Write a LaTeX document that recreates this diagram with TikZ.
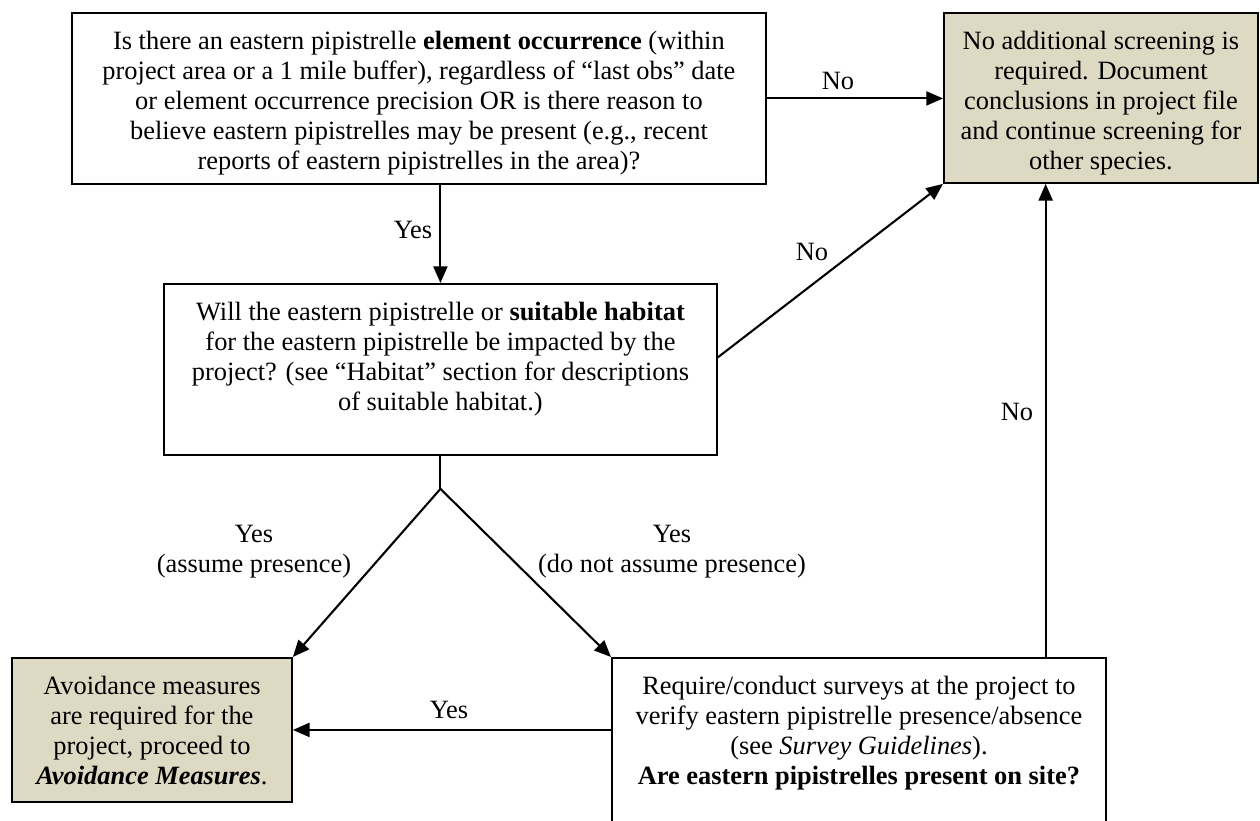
\documentclass[tikz,border=0pt]{standalone}
\usepackage{fontspec}
\setmainfont{Liberation Serif}
\usetikzlibrary{arrows.meta,calc}
\newlength\px \setlength\px{0.4545pt}
\definecolor{tanfill}{HTML}{DDD9C3}
\newcommand{\bxt}[3]{\parbox[c][#2\px][t]{#1\px}{\centering\vspace*{16\px}\strut #3}}
\begin{document}
\begin{tikzpicture}[x=0.4545pt,y=-0.4545pt,
  every node/.style={font=\fontsize{12}{13.64}\selectfont},
  box/.style={draw, line width=0.85pt, inner sep=0pt, anchor=north west},
  tanbox/.style={box, fill=tanfill},
  arr/.style={line width=0.95pt, -{Triangle[length=7.6pt,width=6.4pt]}},
  ln/.style={line width=0.95pt},
  lbl/.style={inner sep=0pt}]
\useasboundingbox (0,0) rectangle (1260,821);
\clip (0,0) rectangle (1260,821);

\node[box] (top) at (71,12) {\bxt{694}{171}{Is there an eastern pipistrelle \textbf{element occurrence} (within\\ project area or a 1 mile buffer), regardless of “last obs” date\\ or element occurrence precision OR is there reason to\\ believe eastern pipistrelles may be present (e.g., recent\\ reports of eastern pipistrelles in the area)?}};

\node[tanbox] (ns) at (943,12) {\bxt{314}{170}{No additional screening is\\ required. Document\\ conclusions in project file\\ and continue screening for\\ other species.}};

\node[box] (hab) at (163,283) {\bxt{553}{171}{Will the eastern pipistrelle or \textbf{suitable habitat}\\ for the eastern pipistrelle be impacted by the\\ project? (see “Habitat” section for descriptions\\ of suitable habitat.)}};

\node[tanbox] (av) at (11,657) {\bxt{280}{144}{Avoidance measures\\ are required for the\\ project, proceed to\\ \textbf{\textit{Avoidance Measures}}.}};

\node[box] (sv) at (611,657) {\bxt{494}{200}{Require/conduct surveys at the project to\\ verify eastern pipistrelle presence/absence\\ (see \textit{Survey Guidelines}).\\ \textbf{Are eastern pipistrelles present on site?}}};

\draw[arr] (top.east) -- (top.east -| ns.west);
\draw[arr] (top.south -| hab.north) -- (hab.north);
\draw[arr] ($(hab.north east)!0.43!(hab.south east)$) -- (ns.south west);
\coordinate (fork) at ($(hab.south)+(0,33)$);
\draw[ln] (hab.south) -- (fork);
\draw[arr] (fork) -- (av.north east);
\draw[arr] (fork) -- (sv.north west);
\draw[arr] (sv.west |- av.east) -- (av.east);
\coordinate (nsb) at ($(ns.south west)!0.325!(ns.south east)$);
\draw[arr] (sv.north -| nsb) -- (nsb);

\node[lbl] (l1) at (838,81) {No};
\node[lbl] (l2) at (413,230) {Yes};
\node[lbl] (l3) at (812,252) {No};
\node[lbl] (l4) at (1017,412) {No};
\node[lbl, align=center] (l5) at (254,552) {Yes\\(assume presence)};
\node[lbl, align=center] (l6) at (672,552) {Yes\\(do not assume presence)};
\node[lbl] (l7) at (449,710) {Yes};
\end{tikzpicture}
\end{document}
